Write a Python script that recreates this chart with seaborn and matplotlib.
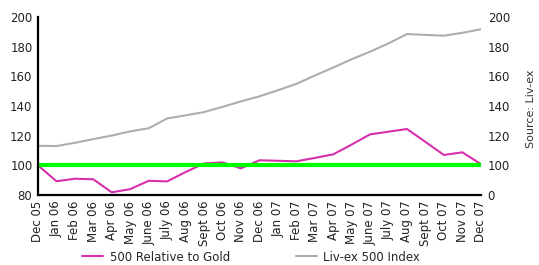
import pandas as pd
import numpy as np
import matplotlib
matplotlib.use('Agg')
import matplotlib.pyplot as plt
import seaborn as sns

# data
months = ['Dec 05', 'Jan 06', 'Feb 06', 'Mar 06', 'Apr 06', 'May 06', 'June 06', 'July 06',
          'Aug 06', 'Sept 06', 'Oct 06', 'Nov 06', 'Dec 06', 'Jan 07', 'Feb 07', 'Mar 07',
          'Apr 07', 'May 07', 'June 07', 'July 07', 'Aug 07', 'Sept 07', 'Oct 07', 'Nov 07', 'Dec 07']
relative_gold = [100, 89.3, 91.0, 90.6, 81.8, 84.0, 89.6, 89.2, 95.5, 101.3, 102.0, 98.0, 103.4,
                 103.1, 102.7, 105.0, 107.4, 114.0, 120.9, 122.7, 124.5, 115.8, 107.0, 108.8, 100.9]
livex_500 = [113.2, 113.0, 115.2, 117.7, 120.1, 122.9, 125.0, 131.6, 133.7, 135.9, 139.4, 143.1, 146.5,
             150.6, 154.9, 160.5, 165.9, 171.5, 176.6, 182.2, 188.5, 187.9, 187.4, 189.3, 191.7]
baseline = 100
left_ticks = [80, 100, 120, 140, 160, 180, 200]
right_labels = ['0', '100', '120', '140', '160', '180', '200']

sns.set_theme(style='white')
plt.rcParams['font.family'] = ['DejaVu Sans']
plt.rcParams['font.size'] = 8.5

x = np.arange(len(months))
fig = plt.figure(figsize=(5.39, 2.65), dpi=100)
ax = fig.add_axes([0.0705, 0.264, 0.8215, 0.672])

sns.lineplot(x=x, y=relative_gold, ax=ax, color='#d62fac', linewidth=1.5, label='500 Relative to Gold')
sns.lineplot(x=x, y=livex_500, ax=ax, color='#b2aca8', linewidth=1.5, label='Liv-ex 500 Index')
sns.lineplot(x=x, y=[baseline] * len(months), ax=ax, color='#00ff00', linewidth=3, legend=False)

ax.set_xlim(0, len(months) - 1)
ax.set_ylim(80, 200)
ax.set_yticks(left_ticks)
ax.set_xticks(x)
ax.set_xticklabels(months, rotation=90, fontsize=8.5, color='#222222')
ax.tick_params(axis='both', length=0, pad=4, labelsize=8.5, labelcolor='#222222')

for s in ['top', 'right']:
    ax.spines[s].set_visible(False)
for s in ['left', 'bottom']:
    ax.spines[s].set_color('black')
    ax.spines[s].set_linewidth(1.6)

ax2 = ax.twinx()
ax2.set_ylim(80, 200)
ax2.set_yticks(left_ticks)
ax2.set_yticklabels(right_labels)
ax2.tick_params(axis='y', length=0, pad=5, labelsize=8.5, labelcolor='#222222')
for s in ax2.spines.values():
    s.set_visible(False)
ax2.grid(False)
ax.grid(False)

handles, labels = ax.get_legend_handles_labels()
ax.legend_.remove()
fig.legend(handles, labels, loc='center', bbox_to_anchor=(0.466, 0.03), ncol=2, frameon=False,
           fontsize=8.5, handlelength=1.75, handletextpad=0.55, columnspacing=5.6)

fig.text(0.976, 0.59, 'Source: Liv-ex', rotation=90, ha='left', va='center', fontsize=8, color='#333333')

fig.savefig('out.png', dpi=100)
